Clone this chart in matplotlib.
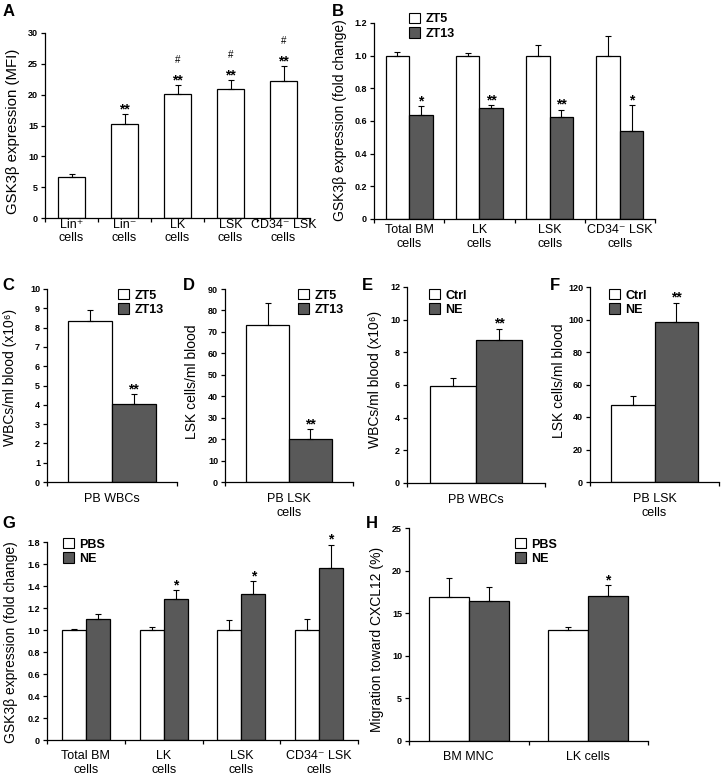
import matplotlib
matplotlib.use('Agg')
import matplotlib.pyplot as plt
from matplotlib.patches import Patch
import numpy as np

plt.rcParams['font.family'] = ['Liberation Sans', 'DejaVu Sans']

W, H = 723, 778
LIGHT = 'white'
DARK = '#595959'

# A: GSK3b MFI by population
a_cats = ['Lin⁺\ncells', 'Lin⁻\ncells', 'LK\ncells', 'LSK\ncells', 'CD34⁻ LSK\ncells']
a_vals = [6.6, 15.2, 20.1, 20.9, 22.2]
a_err = [0.6, 1.7, 1.4, 1.5, 2.4]
a_stars = ['', '**', '**', '**', '**']
a_hash = ['', '', '#', '#', '#']

# B: ZT5 vs ZT13 fold change
b_cats = ['Total BM\ncells', 'LK\ncells', 'LSK\ncells', 'CD34⁻ LSK\ncells']
b_zt5 = [1.0, 1.0, 1.0, 1.0]
b_zt5_err = [0.022, 0.018, 0.063, 0.118]
b_zt13 = [0.635, 0.678, 0.625, 0.54]
b_zt13_err = [0.055, 0.021, 0.045, 0.155]
b_stars = ['*', '**', '**', '*']

# C, D: peripheral blood ZT5 vs ZT13
c_vals = [8.32, 4.06]
c_err = [0.61, 0.5]
d_vals = [73.1, 20.1]
d_err = [10.4, 4.6]

# E, F: Ctrl vs NE
e_vals = [5.96, 8.75]
e_err = [0.49, 0.7]
f_vals = [47.6, 98.3]
f_err = [5.5, 12.1]

# G: PBS vs NE fold change
g_cats = b_cats
g_pbs = [1.0, 1.0, 1.0, 1.0]
g_pbs_err = [0.012, 0.03, 0.088, 0.10]
g_ne = [1.10, 1.278, 1.33, 1.562]
g_ne_err = [0.048, 0.082, 0.117, 0.214]
g_stars = ['', '*', '*', '*']

# H: migration toward CXCL12
h_cats = ['BM MNC', 'LK cells']
h_pbs = [16.93, 13.07]
h_pbs_err = [2.21, 0.28]
h_ne = [16.46, 17.04]
h_ne_err = [1.59, 1.25]
h_stars = ['', '*']

fig = plt.figure(figsize=(W / 100, H / 100), dpi=100)


def make_ax(x0, y0, x1, y1):
    return fig.add_axes([x0 / W, 1 - y1 / H, (x1 - x0) / W, (y1 - y0) / H])


def fmt_dec(v):
    return '0' if v == 0 else f'{v:.1f}'


def style(ax, n, cats, ymax, step, pad, dec=False):
    ax.set_xlim(-0.5, n - 0.5)
    ax.set_ylim(0, ymax)
    ticks = np.arange(0, ymax + step / 2, step)
    ax.set_yticks(ticks)
    ax.set_yticklabels([fmt_dec(t) if dec else f'{t:g}' for t in ticks],
                       fontsize=6.5, fontweight='bold')
    ax.set_xticks(range(n))
    ax.set_xticklabels(cats, fontsize=9)
    ax.set_xticks(np.arange(-0.5, n), minor=True)
    ax.tick_params(axis='x', which='major', length=0, pad=pad)
    ax.tick_params(axis='x', which='minor', length=3, width=0.9)
    ax.tick_params(axis='y', length=3, width=0.9, pad=2)
    for s in ['top', 'right']:
        ax.spines[s].set_visible(False)
    for s in ['left', 'bottom']:
        ax.spines[s].set_linewidth(0.9)


def ylab(ax, text, box, cx, cy, size=10):
    x0, y0, x1, y1 = box
    ax.set_ylabel(text, fontsize=size)
    ax.yaxis.label.set_verticalalignment('center')
    ax.yaxis.set_label_coords((cx - x0) / (x1 - x0), (y1 - cy) / (y1 - y0))


def bars(ax, x, vals, err, color, w):
    ax.bar(x, vals, w, color=color, edgecolor='black', linewidth=0.9, zorder=2)
    ax.errorbar(x, vals, yerr=[np.zeros(len(vals)), err], fmt='none', ecolor='black',
                elinewidth=0.8, capsize=2.5, capthick=0.8, zorder=3)


def stars(ax, x, tops, marks, dy=0.5, size=10, weight='bold'):
    for xi, t, m in zip(x, tops, marks):
        if m:
            ax.annotate(m, (xi, t), xytext=(0, dy), textcoords='offset points',
                        ha='center', va='baseline', fontsize=size, fontweight=weight,
                        annotation_clip=False)


def legend(ax, labels, x, y):
    handles = [Patch(facecolor=LIGHT, edgecolor='black', lw=0.8),
               Patch(facecolor=DARK, edgecolor='black', lw=0.8)]
    ax.legend(handles, labels, loc='upper left', bbox_to_anchor=(x / W, 1 - (y - 7) / H),
              bbox_transform=fig.transFigure, frameon=False, borderpad=0, borderaxespad=0,
              handlelength=0.9, handleheight=0.9, handletextpad=0.4, labelspacing=0.15,
              prop={'weight': 'bold', 'size': 9})


def letter(text, x, y):
    fig.text(x / W, 1 - y / H, text, fontsize=12, fontweight='bold', ha='center', va='center')


# ---- A
box = (45, 33, 310, 218)
ax = make_ax(*box)
xa = np.arange(len(a_vals))
ax.bar(xa, a_vals, 0.51, color=LIGHT, edgecolor='black', linewidth=0.9, zorder=2)
ax.errorbar(xa, a_vals, yerr=[np.zeros(len(a_vals)), a_err], fmt='none', ecolor='black',
            elinewidth=0.8, capsize=2.5, capthick=0.8, zorder=3)
style(ax, 5, a_cats, 30, 5, 0.5)
tops = np.array(a_vals) + np.array(a_err)
stars(ax, xa, tops, a_stars)
stars(ax, xa, tops, a_hash, dy=16, size=7, weight='normal')
ylab(ax, 'GSK3β expression (MFI)', box, 13, 131, size=10.8)
letter('A', 9, 12)

# ---- grouped panels
def grouped(box, cats, v1, e1, v2, e2, ymax, step, pad, dec, w=0.335):
    ax = make_ax(*box)
    x = np.arange(len(v1))
    bars(ax, x - w / 2, v1, e1, LIGHT, w)
    bars(ax, x + w / 2, v2, e2, DARK, w)
    style(ax, len(v1), cats, ymax, step, pad, dec)
    return ax, x + w / 2, np.array(v2) + np.array(e2)


box = (374, 23, 655, 219)
ax, xs, tops = grouped(box, b_cats, b_zt5, b_zt5_err, b_zt13, b_zt13_err, 1.2, 0.2, 3.5, True)
stars(ax, xs, tops, b_stars)
legend(ax, ['ZT5', 'ZT13'], 409, 20)
ylab(ax, 'GSK3β expression (fold change)', box, 340, 120)
letter('B', 338, 12)

box = (47, 289, 177, 482)
ax, xs, tops = grouped(box, ['PB WBCs'], c_vals[:1], c_err[:1], c_vals[1:], c_err[1:], 10, 1, 8, False)
stars(ax, xs, tops, ['**'])
legend(ax, ['ZT5', 'ZT13'], 118, 296)
ylab(ax, 'WBCs/ml blood (x10⁶)', box, 10, 377)
letter('C', 8, 285)

box = (225, 289, 353, 482)
ax, xs, tops = grouped(box, ['PB LSK\ncells'], d_vals[:1], d_err[:1], d_vals[1:], d_err[1:], 90, 10, 8, False)
stars(ax, xs, tops, ['**'])
legend(ax, ['ZT5', 'ZT13'], 298, 296)
ylab(ax, 'LSK cells/ml blood', box, 192, 382)
letter('D', 189, 285)

box = (407, 287, 545, 483)
ax, xs, tops = grouped(box, ['PB WBCs'], e_vals[:1], e_err[:1], e_vals[1:], e_err[1:], 12, 2, 8, False)
stars(ax, xs, tops, ['**'])
legend(ax, ['Ctrl', 'NE'], 429, 296)
ylab(ax, 'WBCs/ml blood (x10⁶)', box, 375, 379)
letter('E', 367, 285)

box = (590, 287, 719, 482)
ax, xs, tops = grouped(box, ['PB LSK\ncells'], f_vals[:1], f_err[:1], f_vals[1:], f_err[1:], 120, 20, 8, False)
stars(ax, xs, tops, ['**'])
legend(ax, ['Ctrl', 'NE'], 609, 296)
ylab(ax, 'LSK cells/ml blood', box, 559, 381)
letter('F', 555, 285)

box = (47, 542, 358, 740)
ax, xs, tops = grouped(box, g_cats, g_pbs, g_pbs_err, g_ne, g_ne_err, 1.8, 0.2, 7, True, w=0.31)
stars(ax, xs, tops, g_stars)
legend(ax, ['PBS', 'NE'], 63, 545)
ylab(ax, 'GSK3β expression (fold change)', box, 11, 642)
letter('G', 9, 523)

box = (409, 528, 648, 741)
ax, xs, tops = grouped(box, h_cats, h_pbs, h_pbs_err, h_ne, h_ne_err, 25, 5, 7, False, w=0.333)
stars(ax, xs, tops, h_stars)
legend(ax, ['PBS', 'NE'], 515, 545)
ylab(ax, 'Migration toward CXCL12 (%)', box, 377, 639)
letter('H', 372, 523)

fig.savefig('out.png', dpi=100)
